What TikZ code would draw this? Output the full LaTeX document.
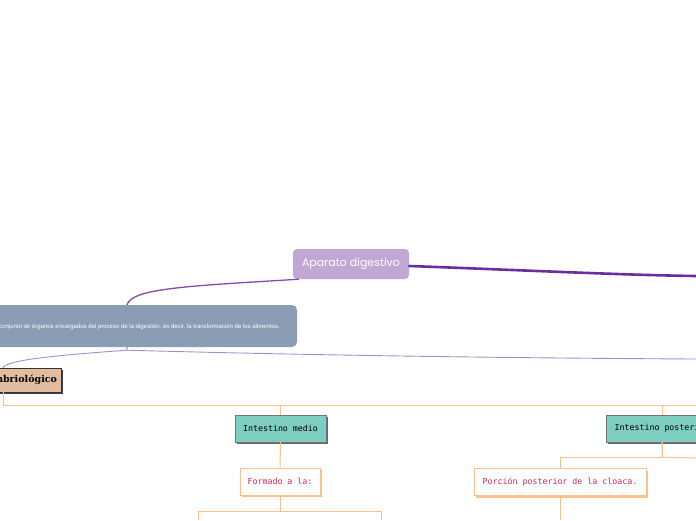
\documentclass[tikz,border=0pt]{standalone}
\usepackage{fontspec}
\setmainfont{Liberation Sans}
\newfontfamily\titlefont{Poppins}
\newfontfamily\codefont{DejaVu Sans Mono}
\newfontfamily\slabfont{DejaVu Serif}
\usetikzlibrary{positioning,calc,shadows}
\definecolor{topicpurple}{HTML}{C0A7D4}
\definecolor{linepurple}{HTML}{6A2E9C}
\definecolor{softpurple}{HTML}{A98BCB}
\definecolor{slate}{HTML}{8A9DB5}
\definecolor{tanbox}{HTML}{E2BC9E}
\definecolor{tealbox}{HTML}{7ECDC1}
\definecolor{orangeline}{HTML}{F9C08A}
\definecolor{crimson}{HTML}{CF2A52}
\tikzset{
  topic/.style    = {fill=topicpurple, rounded corners=4pt, text=white,
                     minimum width=116pt, minimum height=30pt,
                     font=\titlefont\fontsize{11}{13}\selectfont},
  descbox/.style  = {fill=slate, rounded corners=5pt,
                     minimum width=340pt, minimum height=42pt},
  desctext/.style = {text=white, inner sep=0pt,
                     font=\fontsize{6}{7}\selectfont},
  tanbox/.style   = {draw=black!80, fill=tanbox, minimum width=116pt,
                     minimum height=24pt, align=right, text width=108pt,
                     font=\slabfont\bfseries\fontsize{9.5}{11}\selectfont,
                     drop shadow={shadow xshift=2pt, shadow yshift=-2pt, fill=black!75, opacity=1}},
  partbox/.style  = {draw=black!55, fill=tealbox, minimum height=27pt,
                     font=\codefont\fontsize{8.3}{10}\selectfont,
                     drop shadow={shadow xshift=2pt, shadow yshift=-2pt, fill=black!60, opacity=1}},
  notebox/.style  = {draw=orangeline, thick, fill=white, text=crimson, minimum height=27pt,
                     font=\codefont\fontsize{8.3}{10}\selectfont,
                     drop shadow={shadow xshift=2pt, shadow yshift=-2pt, fill=orangeline, opacity=1}},
  mainlink/.style = {linepurple, line width=2.6pt, line cap=round},
  sublink/.style  = {linepurple!85, line width=1.3pt},
  thinlink/.style = {softpurple, line width=0.9pt},
  branch/.style   = {orangeline, line width=1pt},
}
\begin{document}
\begin{tikzpicture}[x=1pt,y=-1pt]
\useasboundingbox (0,0) rectangle (696,520);
% central topic
\node[topic] (main) at (351,264) {Aparato digestivo};
\coordinate (east edge) at (696,276);
\draw[mainlink] (main.east) ++(0,2) .. controls (520,270) and (620,275) .. (east edge);
% description
\node[descbox] (desc) at (127,326) {};
\node[desctext, anchor=east] (desctxt) at (280,327)
  {conjunto de órganos encargados del proceso de la digestión, es decir, la transformación de los alimentos.};
\draw[sublink] ($(main.south west)+(6,0)$) .. controls (190,286) and (132,288) .. (desc.north);
% second level
\node[tanbox] (embrio) at (3,380) {Embriológico};
\coordinate (east thin) at (696,359);
\draw[thinlink] (desc.south) -- ++(0,3) .. controls (60,355) and (5,360) .. (embrio.north);
\draw[thinlink] (desc.south) -- ++(0,3) .. controls (300,355) and (500,358) .. (east thin);
% embryological parts
\node[partbox, minimum width=91pt] (medio) at (280.5,428.5) {Intestino medio};
\node[partbox, minimum width=112pt] (post) at (662,428.5) {Intestino posterior};
\coordinate (bus) at (3,405);
\coordinate (bus end) at (696,405);
\draw[branch] (embrio.south) -- (bus) -- (bus end);
\draw[branch] (bus) -| (medio.north);
\draw[branch] (bus) -| (post.north);
% intestino medio
\node[notebox, minimum width=80pt] (formado) at (280,481.5) {Formado a la:};
\draw[branch] (medio.south) -- (formado.north);
\coordinate (form left) at (198,520);
\coordinate (form right) at (381,520);
\draw[branch] (formado.south) -- ++(0,16) -| (form left);
\draw[branch] (formado.south) -- ++(0,16) -| (form right);
% intestino posterior
\node[notebox, minimum width=172pt] (porcion) at (560,482) {Porción posterior de la cloaca.};
\coordinate (post end) at (696,458);
\coordinate (porc down) at (560,520);
\draw[branch] (post.south) -- ++(0,15) -| (porcion.north);
\draw[branch] (post.south) -- ++(0,15) -- (post end);
\draw[branch] (porcion.south) -- (porc down);
\end{tikzpicture}
\end{document}
